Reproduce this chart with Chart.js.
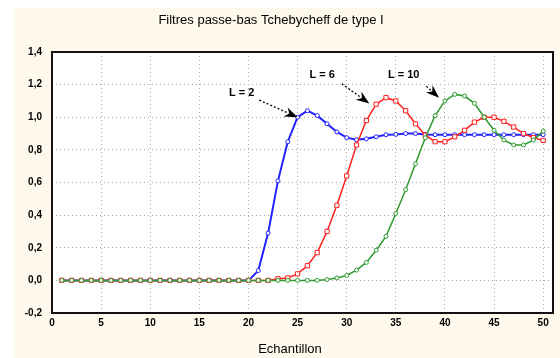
<!DOCTYPE html>
<html>
<head>
<meta charset="utf-8">
<script src="https://cdn.jsdelivr.net/npm/chart.js@4/dist/chart.umd.min.js"></script>
<style>
  html, body { margin: 0; padding: 0; background: #fff; }
  #wrap { width: 560px; height: 358px; position: relative; }
</style>
</head>
<body>
<div id="wrap"><canvas id="myChart" width="560" height="358"></canvas></div>
<script>
// samples (x axis)
const samples = [1,2,3,4,5,6,7,8,9,10,11,12,13,14,15,16,17,18,19,20,
                 21,22,23,24,25,26,27,28,29,30,31,32,33,34,35,36,37,38,39,40,
                 41,42,43,44,45,46,47,48,49,50]

// L = 2
const filterL2 = [0,0,0,0,0,0,0,0,0,0,0,0,0,0,0,0,0,0,0,0,
                  0.06,0.29,0.61,0.85,1.00,1.04,1.01,0.96,0.91,0.875,
                  0.862,0.868,0.88,0.893,0.895,0.90,0.90,0.895,0.893,0.893,
                  0.893,0.893,0.893,0.893,0.893,0.893,0.893,0.893,0.893,0.893]

// L = 6
const filterL6 = [0,0,0,0,0,0,0,0,0,0,0,0,0,0,0,0,0,0,0,0,
                  0,0,0.01,0.015,0.04,0.09,0.17,0.30,0.46,0.64,
                  0.83,0.98,1.08,1.12,1.10,1.04,0.96,0.89,0.85,0.85,
                  0.88,0.92,0.97,1.00,1.00,0.975,0.94,0.90,0.875,0.858]

// L = 10
const filterL10 = [0,0,0,0,0,0,0,0,0,0,0,0,0,0,0,0,0,0,0,0,
                   0,0,0,0,0,0,0,0.005,0.015,0.03,
                   0.063,0.11,0.185,0.27,0.41,0.556,0.715,0.874,1.01,1.10,
                   1.14,1.13,1.085,1.00,0.92,0.86,0.83,0.83,0.86,0.915]

const xTicks = [0,5,10,15,20,25,30,35,40,45,50]
const yTicks = [-0.2,0,0.2,0.4,0.6,0.8,1.0,1.2,1.4]

// labels with arrows: text pos and arrow start/tip, in data units
const noteLabels = ['L = 2', 'L = 6', 'L = 10']
const noteText   = [[19.3, 1.15], [27.5, 1.26], [35.8, 1.26]]
const noteFrom   = [[21.1, 1.105], [29.5, 1.205], [38.1, 1.19]]
const noteTip    = [[25.0, 1.0], [32.3, 1.085], [39.4, 1.12]]

const chartTitle = 'Filtres passe-bas Tchebycheff de type I'
const xTitle = 'Echantillon'

function toPoints(values) {
    return samples.map((s, i) => ({x: s, y: values[i]}))
}

const panelPlugin = {
    id: 'panel',
    beforeDraw(chart) {
        const ctx = chart.ctx
        const a = chart.chartArea
        ctx.save()
        ctx.fillStyle = '#ffffff'
        ctx.fillRect(0, 0, chart.width, chart.height)
        ctx.fillStyle = '#fef9ec'
        ctx.fillRect(14, 8, chart.width - 14, chart.height - 8)
        ctx.fillStyle = '#ffffff'
        ctx.fillRect(a.left, a.top, a.right - a.left, a.bottom - a.top)
        ctx.restore()
    },
    afterDraw(chart) {
        const ctx = chart.ctx
        const a = chart.chartArea
        const xs = chart.scales.x
        const ys = chart.scales.y
        ctx.save()
        // frame
        ctx.strokeStyle = '#111'
        ctx.lineWidth = 2
        ctx.strokeRect(a.left, a.top, a.right - a.left, a.bottom - a.top)

        // titles
        ctx.fillStyle = '#000'
        ctx.textAlign = 'center'
        ctx.textBaseline = 'middle'
        ctx.font = '13px "Liberation Sans", Arial, sans-serif'
        ctx.fillText(chartTitle, 271, 20)
        ctx.fillText(xTitle, 290, 349)

        // arrows + labels
        ctx.font = 'bold 11px "Liberation Sans", Arial, sans-serif'
        for (let i = 0; i < noteLabels.length; i++) {
            const tx = xs.getPixelForValue(noteText[i][0])
            const ty = ys.getPixelForValue(noteText[i][1])
            ctx.fillText(noteLabels[i], tx, ty)

            const x0 = xs.getPixelForValue(noteFrom[i][0])
            const y0 = ys.getPixelForValue(noteFrom[i][1])
            const x1 = xs.getPixelForValue(noteTip[i][0])
            const y1 = ys.getPixelForValue(noteTip[i][1])
            const ang = Math.atan2(y1 - y0, x1 - x0)
            const headLen = 14
            const bx = x1 - 0.7 * headLen * Math.cos(ang)
            const by = y1 - 0.7 * headLen * Math.sin(ang)

            ctx.strokeStyle = '#000'
            ctx.lineWidth = 1.3
            ctx.setLineDash([2, 2])
            ctx.beginPath()
            ctx.moveTo(x0, y0)
            ctx.lineTo(bx, by)
            ctx.stroke()
            ctx.setLineDash([])

            ctx.beginPath()
            ctx.moveTo(x1, y1)
            ctx.lineTo(x1 - headLen * Math.cos(ang - 0.36), y1 - headLen * Math.sin(ang - 0.36))
            ctx.lineTo(x1 - 0.65 * headLen * Math.cos(ang), y1 - 0.65 * headLen * Math.sin(ang))
            ctx.lineTo(x1 - headLen * Math.cos(ang + 0.36), y1 - headLen * Math.sin(ang + 0.36))
            ctx.closePath()
            ctx.fill()
        }
        ctx.restore()
    }
}

const ctx = document.getElementById('myChart')

new Chart(ctx, {
    type: 'line',
    data: {
        datasets: [
            {
                label: 'L = 10',
                data: toPoints(filterL10),
                borderColor: '#2e9a2e',
                borderWidth: 1.5,
                pointStyle: 'circle',
                pointRadius: 2,
                pointBorderWidth: 1,
                pointBorderColor: '#2e9a2e',
                pointBackgroundColor: '#ffffff',
                order: 0
            },
            {
                label: 'L = 6',
                data: toPoints(filterL6),
                borderColor: '#ff2020',
                borderWidth: 1.5,
                pointStyle: 'rect',
                pointRadius: 3,
                pointBorderWidth: 1,
                pointBorderColor: '#ff2020',
                pointBackgroundColor: '#ffffff',
                order: 1
            },
            {
                label: 'L = 2',
                data: toPoints(filterL2),
                borderColor: '#2222ff',
                borderWidth: 2,
                pointStyle: 'circle',
                pointRadius: 2,
                pointBorderWidth: 1,
                pointBorderColor: '#2222ff',
                pointBackgroundColor: '#ffffff',
                order: 2
            }
        ]
    },
    options: {
        responsive: false,
        animation: false,
        layout: { padding: { left: 0, top: 52, right: 7, bottom: 0 } },
        plugins: {
            legend: { display: false },
            tooltip: { enabled: false },
            title: { display: false }
        },
        scales: {
            x: {
                type: 'linear',
                min: 0,
                max: 51,
                afterFit: (scale) => { scale.height = 45 },
                afterBuildTicks: (scale) => { scale.ticks = xTicks.map(v => ({value: v})) },
                ticks: {
                    color: '#000',
                    padding: 4,
                    font: { size: 10, weight: 'bold', family: '"Liberation Sans", Arial, sans-serif' }
                },
                grid: {
                    color: '#a8a8a8',
                    lineWidth: 1,
                    drawTicks: false
                },
                border: { display: false, dash: [1, 3] }
            },
            y: {
                min: -0.2,
                max: 1.4,
                afterFit: (scale) => { scale.width = 52 },
                afterBuildTicks: (scale) => { scale.ticks = yTicks.map(v => ({value: v})) },
                ticks: {
                    color: '#000',
                    padding: 10,
                    font: { size: 10, weight: 'bold', family: '"Liberation Sans", Arial, sans-serif' },
                    callback: (v) => v.toFixed(1).replace('.', ',')
                },
                grid: {
                    color: '#a8a8a8',
                    lineWidth: 1,
                    drawTicks: false
                },
                border: { display: false, dash: [1, 3] }
            }
        }
    },
    plugins: [panelPlugin]
});
</script>
</body>
</html>
